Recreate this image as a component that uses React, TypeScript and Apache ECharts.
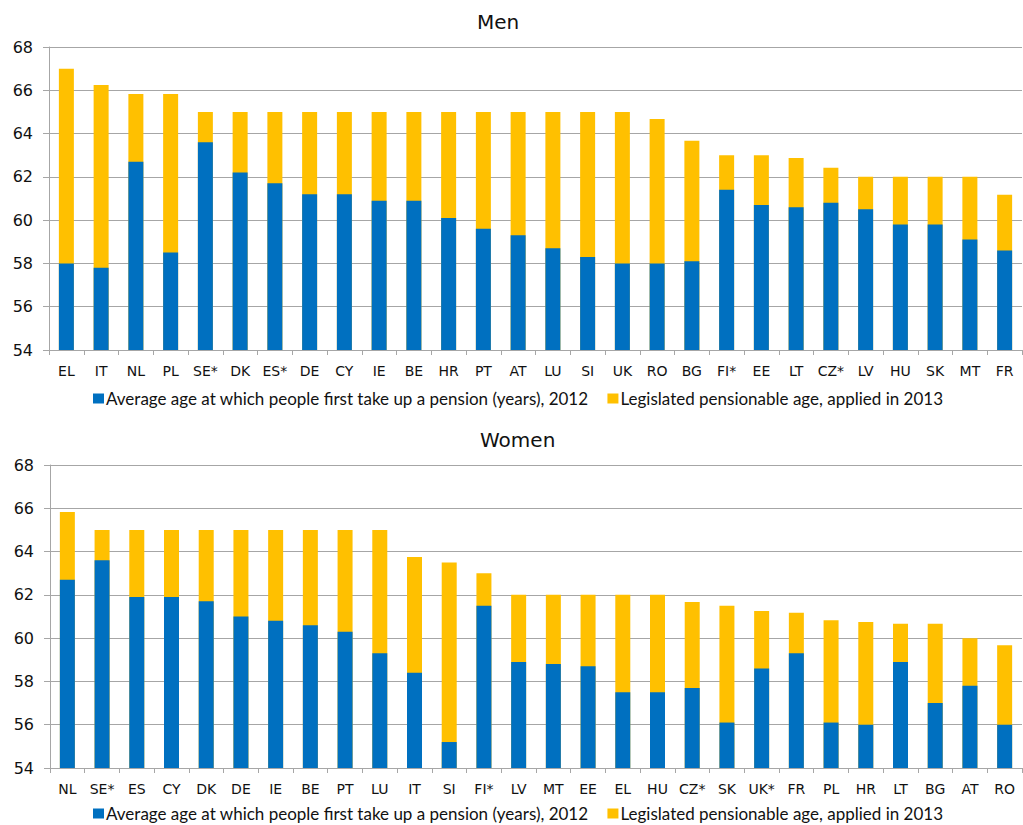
import React, { useEffect, useRef } from "react";
import * as echarts from "echarts";

const menCountries = ["EL", "IT", "NL", "PL", "SE*", "DK", "ES*", "DE", "CY", "IE", "BE", "HR", "PT", "AT", "LU", "SI", "UK", "RO", "BG", "FI*", "EE", "LT", "CZ*", "LV", "HU", "SK", "MT", "FR"];
const menAverage = [58.0, 57.8, 62.7, 58.5, 63.6, 62.2, 61.7, 61.2, 61.2, 60.9, 60.9, 60.1, 59.6, 59.3, 58.7, 58.3, 58.0, 58.0, 58.1, 61.4, 60.7, 60.6, 60.8, 60.5, 59.8, 59.8, 59.1, 58.6];
const menLegislated = [67.0, 66.25, 65.83, 65.83, 65.0, 65.0, 65.0, 65.0, 65.0, 65.0, 65.0, 65.0, 65.0, 65.0, 65.0, 65.0, 65.0, 64.67, 63.67, 63.0, 63.0, 62.87, 62.42, 62.0, 62.0, 62.0, 62.0, 61.17];

const womenCountries = ["NL", "SE*", "ES", "CY", "DK", "DE", "IE", "BE", "PT", "LU", "IT", "SI", "FI*", "LV", "MT", "EE", "EL", "HU", "CZ*", "SK", "UK*", "FR", "PL", "HR", "LT", "BG", "AT", "RO"];
const womenAverage = [62.7, 63.6, 61.9, 61.9, 61.7, 61.0, 60.8, 60.6, 60.3, 59.3, 58.4, 55.2, 61.5, 58.9, 58.8, 58.7, 57.5, 57.5, 57.7, 56.1, 58.6, 59.3, 56.1, 56.0, 58.9, 57.0, 57.8, 56.0];
const womenLegislated = [65.83, 65.0, 65.0, 65.0, 65.0, 65.0, 65.0, 65.0, 65.0, 65.0, 63.75, 63.5, 63.0, 62.0, 62.0, 62.0, 62.0, 62.0, 61.67, 61.5, 61.25, 61.17, 60.83, 60.75, 60.67, 60.67, 60.0, 59.67];

const yTicks = { min: 54, max: 68, interval: 2 };

const seriesAvg = "Average age at which people first take up a pension (years), 2012";
const seriesLeg = "Legislated pensionable age, applied in 2013";

const BLUE = "#0070C0";
const YELLOW = "#FFC000";
const GRID = "#a6a6a6";
const AXIS_FONT = "DejaVu Sans";
const LEGEND_FONT = "Lato";

export default function App() {
  const ref = useRef<HTMLDivElement>(null);
  useEffect(() => {
    if (!ref.current) return;
    const chart = echarts.init(ref.current, null, { renderer: "svg" });
    const xAxisBase = (idx: number, data: string[]) => ({
      type: "category",
      gridIndex: idx,
      data,
      boundaryGap: true,
      axisLine: { lineStyle: { color: GRID, width: 1 } },
      axisTick: { show: true, length: 5, lineStyle: { color: GRID } },
      axisLabel: { color: "#111", fontFamily: AXIS_FONT, fontSize: 14, margin: 14, interval: 0 },
    });
    const yAxisBase = (idx: number) => ({
      type: "value",
      gridIndex: idx,
      min: yTicks.min,
      max: yTicks.max,
      interval: yTicks.interval,
      axisLine: { show: true, lineStyle: { color: GRID, width: 1 } },
      axisTick: { show: true, inside: false, length: 6, lineStyle: { color: GRID } },
      axisLabel: { color: "#111", fontFamily: AXIS_FONT, fontSize: 16, margin: 16 },
      splitLine: { show: true, lineStyle: { color: GRID, width: 1 } },
    });
    const barBase = {
      type: "bar",
      barWidth: 15,
      barGap: "-100%",
    };
    const legendBase = (top: number) => ({
      top,
      left: 93,
      padding: 0,
      orient: "horizontal",
      itemWidth: 11,
      itemHeight: 10,
      itemGap: 19,
      icon: "rect",
      data: [seriesAvg, seriesLeg],
      textStyle: { fontFamily: LEGEND_FONT, fontSize: 17, color: "#111", padding: [0, 0, 0, -3] },
      selectedMode: false,
    });
    chart.setOption({
      animation: false,
      backgroundColor: "#fff",
      title: [
        { text: "Men", left: 472, top: 7, textStyle: { fontFamily: AXIS_FONT, fontSize: 20, fontWeight: "normal", color: "#111" } },
        { text: "Women", left: 475, top: 425, textStyle: { fontFamily: AXIS_FONT, fontSize: 20, fontWeight: "normal", color: "#111" } },
      ],
      legend: [legendBase(390), legendBase(805)],
      grid: [
        { left: 49, right: 1, top: 47, height: 303, containLabel: false },
        { left: 50, right: 1, top: 465, height: 303, containLabel: false },
      ],
      xAxis: [xAxisBase(0, menCountries), xAxisBase(1, womenCountries)],
      yAxis: [yAxisBase(0), yAxisBase(1)],
      series: [
        { ...barBase, name: seriesLeg, xAxisIndex: 0, yAxisIndex: 0, data: menLegislated, itemStyle: { color: YELLOW } },
        { ...barBase, name: seriesAvg, xAxisIndex: 0, yAxisIndex: 0, data: menAverage, itemStyle: { color: BLUE } },
        { ...barBase, name: seriesLeg, xAxisIndex: 1, yAxisIndex: 1, data: womenLegislated, itemStyle: { color: YELLOW } },
        { ...barBase, name: seriesAvg, xAxisIndex: 1, yAxisIndex: 1, data: womenAverage, itemStyle: { color: BLUE } },
      ],
    });
    return () => chart.dispose();
  }, []);
  return (
    <div
      ref={ref}
      style={{ position: "fixed", left: 0, top: 0, width: 1023, height: 825, background: "#fff" }}
    />
  );
}
